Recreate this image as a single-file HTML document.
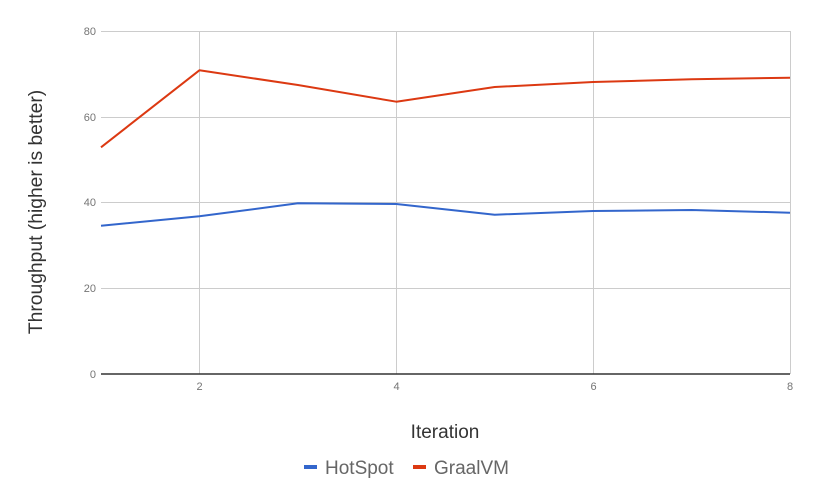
<!DOCTYPE html>
<html><head><meta charset="utf-8"><style>
html,body{margin:0;padding:0;background:#fff;}
svg{display:block;font-family:"Liberation Sans",Arial,sans-serif;}
</style></head><body>
<svg width="815" height="504" viewBox="0 0 815 504" xmlns="http://www.w3.org/2000/svg">
<rect width="815" height="504" fill="#fff"/>
<g stroke="#cccccc" stroke-width="1">
<line x1="101" y1="31.5" x2="790" y2="31.5"/>
<line x1="101" y1="117.5" x2="790" y2="117.5"/>
<line x1="101" y1="202.5" x2="790" y2="202.5"/>
<line x1="101" y1="288.5" x2="790" y2="288.5"/>
<line x1="199.5" y1="31" x2="199.5" y2="374"/>
<line x1="396.5" y1="31" x2="396.5" y2="374"/>
<line x1="593.5" y1="31" x2="593.5" y2="374"/>
<line x1="790.5" y1="31" x2="790.5" y2="374"/>
</g>
<line x1="101" y1="374" x2="790" y2="374" stroke="#333" stroke-width="1.5"/>
<g font-size="11" fill="#757575" text-anchor="end">
<text x="96" y="35">80</text>
<text x="96" y="121">60</text>
<text x="96" y="206">40</text>
<text x="96" y="292">20</text>
<text x="96" y="378">0</text>
</g>
<g font-size="11" fill="#757575" text-anchor="middle">
<text x="199.5" y="390">2</text>
<text x="396.5" y="390">4</text>
<text x="593.5" y="390">6</text>
<text x="790" y="390">8</text>
</g>
<polyline fill="none" stroke="#dc3912" stroke-width="2" stroke-linejoin="round" points="101,147.3 199.4,70.3 297.9,85 396.3,101.7 494.7,87 593.1,82 691.6,79.3 790,77.7"/>
<polyline fill="none" stroke="#3366cc" stroke-width="2" stroke-linejoin="round" points="101,225.7 199.4,216.3 297.9,203.3 396.3,204 494.7,214.7 593.1,211 691.6,210 790,212.7"/>
<text x="445" y="438" font-size="19" fill="#333" text-anchor="middle">Iteration</text>
<text transform="translate(42,212) rotate(-90)" font-size="19.3" fill="#333" text-anchor="middle">Throughput (higher is better)</text>
<rect x="304" y="465" width="13" height="4" fill="#3366cc"/>
<text x="325" y="474" font-size="19" fill="#666">HotSpot</text>
<rect x="413" y="465" width="13" height="4" fill="#dc3912"/>
<text x="434" y="474" font-size="19" fill="#666">GraalVM</text>
</svg>
</body></html>
